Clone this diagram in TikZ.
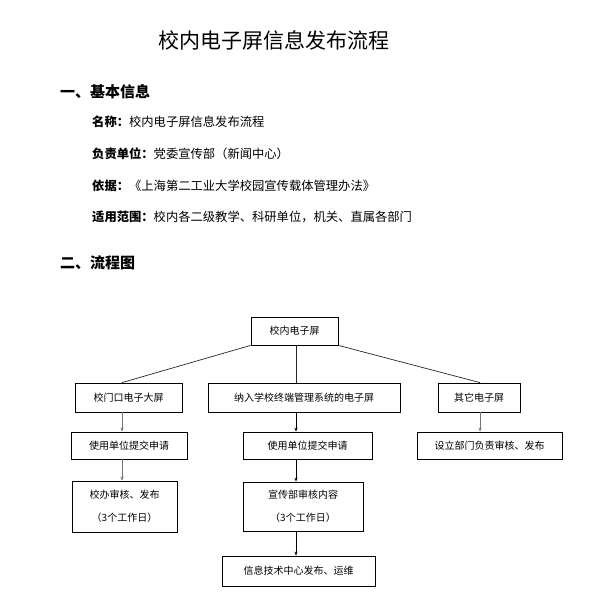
\documentclass[tikz,border=0pt]{standalone}
\usepackage{fontspec}
\setmainfont{Noto Sans CJK SC}
\usetikzlibrary{arrows.meta}
\tikzset{
  box/.style={draw=black, line width=0.8pt, fill=white, inner sep=0pt, font=\fontsize{10}{12}\selectfont, align=center},
  link/.style={draw=black!85, line width=0.7pt},
  arr/.style={draw=black, line width=0.8pt, -{Stealth[length=4pt,width=3.2pt]}},
  garr/.style={draw=black!55, line width=0.7pt, -{Stealth[length=4pt,width=3.2pt]}},
  info/.style={anchor=west, inner sep=0pt, font=\fontsize{12.3}{14}\selectfont},
  head/.style={anchor=west, inner sep=0pt, font=\fontsize{15}{18}\selectfont\bfseries},
}
\begin{document}
\begin{tikzpicture}[x=1pt,y=-1pt]
\useasboundingbox[fill=white] (0,0) rectangle (600,607);
\node[inner sep=0pt, font=\fontsize{21}{25}\selectfont] (title) at (274,40) {校内电子屏信息发布流程};
\node[head] (h1) at (60,92) {一、基本信息};
\node[info] (l1) at (92,122) {\textbf{名称：}校内电子屏信息发布流程};
\node[info] (l2) at (92,154) {\textbf{负责单位：}党委宣传部（新闻中心）};
\node[info] (l3) at (92,186) {\textbf{依据：}《上海第二工业大学校园宣传载体管理办法》};
\node[info] (l4) at (92,217) {\textbf{适用范围：}校内各二级教学、科研单位，机关、直属各部门};
\node[head] (h2) at (60,263) {二、流程图};

\coordinate (colA) at (122,0);
\coordinate (colB) at (296,0);
\coordinate (colC) at (480,0);

\node[box, minimum width=87, minimum height=28] (top) at (294.5,331) {校内电子屏};
\node[box, minimum width=107, minimum height=29] (A1) at (128.5,397.5) {校门口电子大屏};
\node[box, minimum width=192, minimum height=29] (B1) at (304,397.5) {纳入学校终端管理系统的电子屏};
\node[box, minimum width=82, minimum height=29] (C1) at (479,397.5) {其它电子屏};
\node[box, minimum width=116, minimum height=27] (A2) at (129,445.5) {使用单位提交申请};
\node[box, minimum width=129, minimum height=27] (B2) at (307.5,445.5) {使用单位提交申请};
\node[box, minimum width=145, minimum height=27] (C2) at (489.5,445.5) {设立部门负责审核、发布};
\node[box, minimum width=105, minimum height=51, font=\fontsize{10}{23}\selectfont] (A3) at (124.5,506.5) {校办审核、发布\\（3个工作日）};
\node[box, minimum width=120, minimum height=49, font=\fontsize{10}{23}\selectfont] (B3) at (303,506.5) {宣传部审核内容\\（3个工作日）};
\node[box, minimum width=153, minimum height=30] (B4) at (298.5,571) {信息技术中心发布、运维};

\draw[link] (top.south west) -- (A1.north -| colA);
\draw[link] (top.south -| colB) -- (B1.north -| colB);
\draw[link] (top.south east) -- (C1.north -| colC);
\draw[garr] (A1.south -| colA) -- (A2.north -| colA);
\draw[garr] (A2.south -| colA) -- (A3.north -| colA);
\draw[arr] (B1.south -| colB) -- (B2.north -| colB);
\draw[arr] (B2.south -| colB) -- (B3.north -| colB);
\draw[arr] (B3.south -| colB) -- (B4.north -| colB);
\draw[garr] (C1.south -| colC) -- (C2.north -| colC);
\end{tikzpicture}
\end{document}
